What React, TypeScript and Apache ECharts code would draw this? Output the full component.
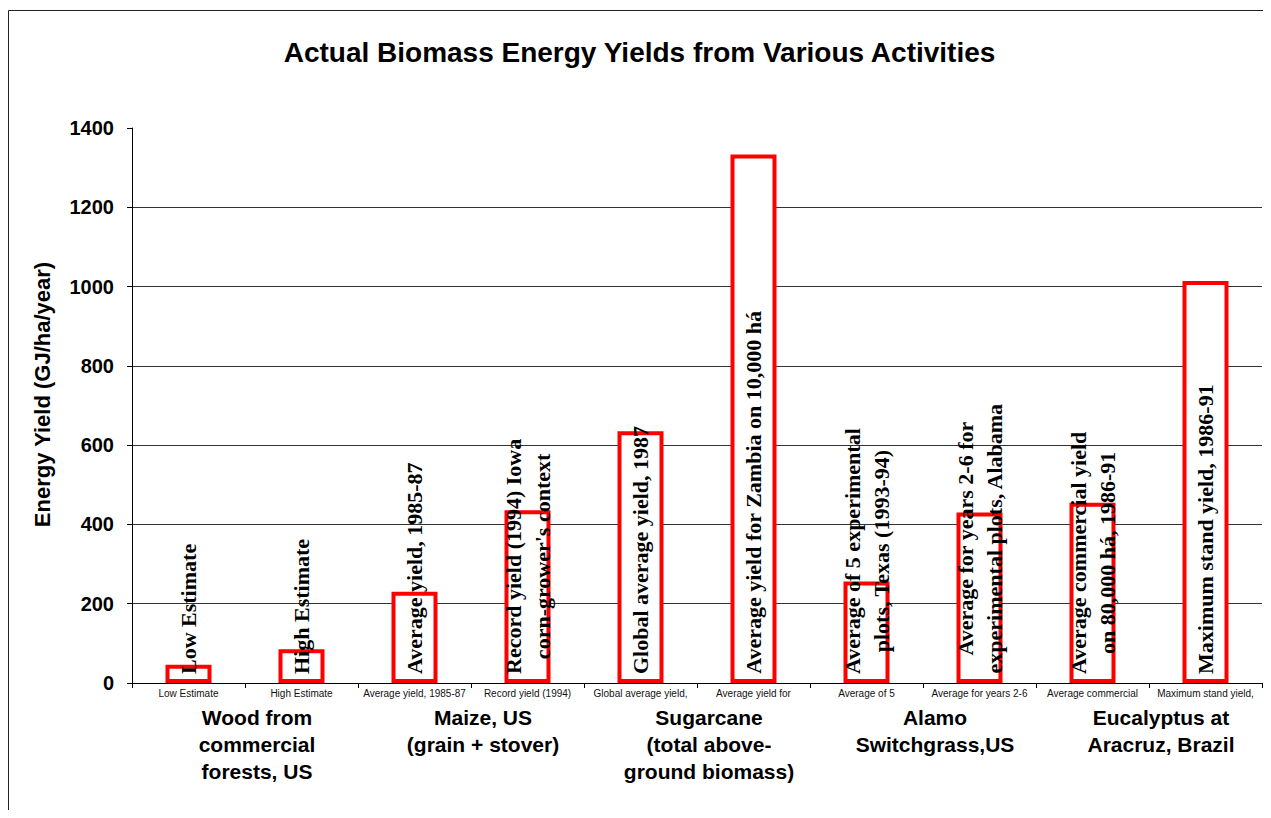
import React, { useEffect, useRef } from 'react';
import * as echarts from 'echarts';

const categories = [
  'Low Estimate',
  'High Estimate',
  'Average yield, 1985-87',
  'Record yield (1994)',
  'Global average yield,',
  'Average yield for',
  'Average of 5',
  'Average for years 2-6',
  'Average commercial',
  'Maximum stand yield,',
];
const yieldValues = [46, 85, 230, 436, 635, 1333, 256, 430, 455, 1014];
const barLabels = [
  ['Low Estimate'],
  ['High Estimate'],
  ['Average yield, 1985-87'],
  ['Record yield (1994) Iowa', "corn-grower's context"],
  ['Global average yield, 1987'],
  ['Average yield for Zambia on 10,000 há'],
  ['Average of 5 experimental', 'plots, Texas (1993-94)'],
  ['Average for years 2-6 for', 'experimental plots, Alabama'],
  ['Average commercial yield', 'on 80,000 há, 1986-91'],
  ['Maximum stand yield, 1986-91'],
];
const groups = [
  'Wood from\ncommercial\nforests, US',
  'Maize, US\n(grain + stover)',
  'Sugarcane\n(total above-\nground biomass)',
  'Alamo\nSwitchgrass,US',
  'Eucalyptus at\nAracruz, Brazil',
];
const yMin = 0;
const yMax = 1400;
const yInterval = 200;

const SANS = '"Liberation Sans", Arial, sans-serif';
const SERIF = '"Liberation Serif", "Times New Roman", serif';

export default function App() {
  const ref = useRef<HTMLDivElement>(null);
  useEffect(() => {
    if (!ref.current) return;
    const chart = echarts.init(ref.current, undefined, { renderer: 'svg' });
    const data = yieldValues.map((v, i) => ({
      value: v,
      label: { formatter: barLabels[i].map((l) => `{c|${l}}`).join('\n') },
    }));
    chart.setOption({
      animation: false,
      backgroundColor: '#fff',
      title: {
        text: 'Actual Biomass Energy Yields from Various Activities',
        left: 'center',
        top: 30,
        padding: [0, 0, 0, 22],
        textStyle: { fontFamily: SANS, fontWeight: 'bold', fontSize: 28, color: '#000' },
      },
      graphic: [
        {
          type: 'rect',
          shape: { x: 0.5, y: 2.5, width: 1400, height: 1000 },
          style: { fill: 'none', stroke: '#222', lineWidth: 1 },
          silent: true,
          z: 0,
        },
      ],
      grid: { left: 124, top: 120, right: 9, bottom: 127, containLabel: false },
      xAxis: [
        {
          type: 'category',
          data: categories,
          position: 'bottom',
          axisLine: { show: true, lineStyle: { color: '#000', width: 1 } },
          axisTick: { show: true, length: 5, lineStyle: { color: '#000' } },
          axisLabel: {
            interval: 0,
            margin: 5,
            fontFamily: SANS,
            fontSize: 10,
            color: '#111',
          },
          splitLine: { show: false },
        },
        {
          type: 'category',
          data: groups,
          position: 'bottom',
          axisLine: { show: false },
          axisTick: { show: false },
          axisLabel: {
            interval: 0,
            margin: 21,
            fontFamily: SANS,
            fontWeight: 'bold',
            fontSize: 21,
            lineHeight: 27,
            color: '#000',
            align: 'center',
            padding: [0, 0, 0, 24],
          },
          splitLine: { show: false },
        },
      ],
      yAxis: {
        type: 'value',
        min: yMin,
        max: yMax,
        interval: yInterval,
        name: 'Energy Yield (GJ/ha/year)',
        nameLocation: 'middle',
        nameRotate: 90,
        nameGap: 79,
        nameTextStyle: {
          fontFamily: SANS,
          fontWeight: 'bold',
          fontSize: 22,
          color: '#000',
          padding: [0, 0, 0, 22],
        },
        axisLine: { show: true, lineStyle: { color: '#000', width: 1 } },
        axisTick: { show: true, length: 5, lineStyle: { color: '#000' } },
        axisLabel: {
          margin: 18,
          fontFamily: SANS,
          fontWeight: 'bold',
          fontSize: 20,
          color: '#000',
          formatter: (v: number) => String(v),
        },
        splitLine: { show: true, showMaxLine: false, lineStyle: { color: '#333', width: 1 } },
      },
      series: [
        {
          type: 'bar',
          xAxisIndex: 0,
          data,
          barWidth: 46,
          itemStyle: { color: '#fff', borderColor: '#ff0000', borderWidth: 4 },
          label: {
            show: true,
            position: 'insideBottom',
            distance: 9,
            rotate: 90,
            align: 'left',
            verticalAlign: 'middle',
            rich: {
              c: {
                fontFamily: SERIF,
                fontWeight: 'bold',
                fontSize: 22,
                lineHeight: 29,
                align: 'center',
                color: '#000',
              },
            },
          },
        },
      ],
    });
    return () => chart.dispose();
  }, []);
  return <div ref={ref} style={{ width: 1263, height: 802 }} />;
}
